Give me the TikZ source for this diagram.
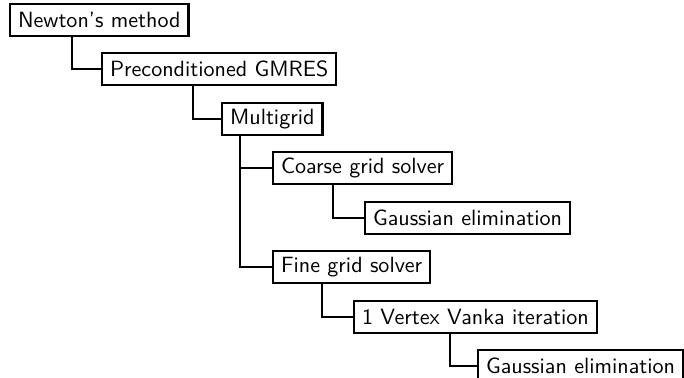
\documentclass[tikz,border=0pt]{standalone}
\usepackage{tikz}
\usetikzlibrary{positioning}

\begin{document}
\begin{tikzpicture}[
    x=0.4533pt, y=-0.4533pt,
    solver/.style={draw, line width=1pt, anchor=west, minimum height=14.6pt, inner xsep=3.6pt, inner ysep=0pt, font=\sffamily},
    link/.style={draw, line width=0.5pt}
]
\useasboundingbox (0,0) rectangle (684,378);
\clip (0,0) rectangle (684,378);

% Outer iterations
\node[solver] (newton) at (9,20) {Newton's method};
\node[solver] (gmres) at (101,69) {Preconditioned GMRES};
\node[solver] (mg) at (221,119) {Multigrid};

% Coarse level
\node[solver] (coarse) at (272,168) {Coarse grid solver};
\node[solver] (gausscoarse) at (364,218) {Gaussian elimination};

% Fine level
\node[solver] (fine) at (272,267) {Fine grid solver};
\node[solver] (vanka) at (353,317) {1 Vertex Vanka iteration};
\node[solver] (gaussfine) at (477,366) {Gaussian elimination};

% Tree edges
\draw[link] (newton.south west) ++(63,0) |- (gmres.west);
\draw[link] (gmres.south west) ++(92,0) |- (mg.west);
\draw[link] (mg.south west) ++(19,0) |- (coarse.west);
\draw[link] (mg.south west) ++(19,0) |- (fine.west);
\draw[link] (coarse.south west) ++(61,0) |- (gausscoarse.west);
\draw[link] (fine.south west) ++(50,0) |- (vanka.west);
\draw[link] (vanka.south west) ++(97,0) |- (gaussfine.west);

\end{tikzpicture}
\end{document}
